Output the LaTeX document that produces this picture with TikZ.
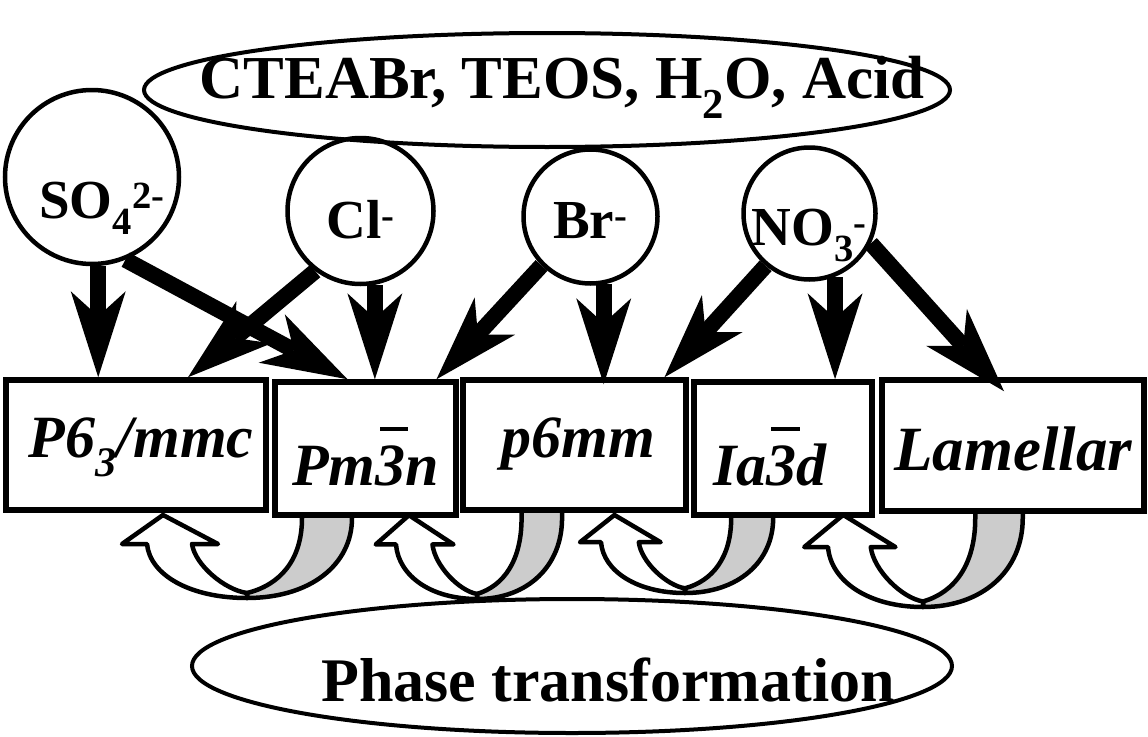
\documentclass[tikz,border=0pt]{standalone}
\usepackage{fontspec}
\setmainfont{Liberation Serif}
\usetikzlibrary{shapes.geometric, arrows.meta, calc}

\newcommand{\ovthree}{\makebox[0pt][l]{\hspace{0.08em}\raisebox{0.9em}{\rule{0.47em}{0.065em}}}3}

\begin{document}
\begin{tikzpicture}[
        x=1pt, y=-1pt,
        block/.style={rectangle, draw, line width=5.5pt, fill=white, inner sep=0pt, font=\fontsize{60}{66}\selectfont\bfseries\itshape},
        ion/.style={circle, draw, line width=4.5pt, inner sep=0pt, font=\fontsize{55}{60}\selectfont\bfseries},
        oval/.style={ellipse, draw, line width=4pt, inner sep=0pt},
        turn/.style={draw, line width=4.5pt, line join=round},
        line/.style={draw, line width=16pt, -{Stealth[length=86pt, width=55pt, inset=25pt, line width=0pt]}}
    ]
    \useasboundingbox (0,0) rectangle (1148,736);

    % phase change arrows
    \foreach \xm/\yb/\sx/\sy in {247/598/1/1, 477/599/0.81/1.01, 685/593/0.84/0.94, 923/607/0.95/1.11}{
        \begin{scope}[shift={(\xm,\yb)}, xscale=\sx, yscale=\sy]
            \path[turn, fill=gray!40] (0,-5) .. controls (33,-13) and (55,-38) .. (55,-80) -- (55,-90) -- (105,-90) -- (105,-80) .. controls (105,-33) and (63,0) .. (0,0) -- cycle;
            \path[turn, fill=white] (-84,-83) -- (-29,-54) -- (-55,-54) .. controls (-52,-33) and (-22,-8) .. (0,-5) -- (0,0) .. controls (-57,0) and (-97,-23) .. (-100,-54) -- (-125,-54) -- cycle;
        \end{scope}
    }

    % phases
    \node[block, minimum width=260pt, minimum height=130pt, text height=40pt, text depth=16pt] (p63) at (136,445) {\kern10pt P6\textsubscript{3}/mmc};
    \node[block, minimum width=181pt, minimum height=133pt, text height=73pt, text depth=0pt] (pm3n) at (365.5,448.5) {Pm\ovthree n};
    \node[block, minimum width=223pt, minimum height=130pt, text height=40pt, text depth=16pt] (p6mm) at (574.5,445) {\kern8pt p6mm};
    \node[block, minimum width=178pt, minimum height=133pt, text height=73pt, text depth=0pt] (ia3d) at (783,448.5) {Ia\ovthree d\kern26pt};
    \node[block, minimum width=262pt, minimum height=131pt, text height=49pt, text depth=0pt, font=\fontsize{63}{69}\selectfont\bfseries\itshape] (lam) at (1013,445.5) {Lamellar};

    % ions
    \node[ion, minimum size=174pt, text height=82pt, text depth=0pt] (so4) at (92,177) {\kern20pt SO\textsubscript{4}\textsuperscript{2-}};
    \node[ion, minimum size=146pt, text height=54pt, text depth=0pt] (cl) at (360.5,211) {Cl\textsuperscript{-}};
    \node[ion, minimum size=134pt, text height=43pt, text depth=0pt] (br) at (590.5,216.5) {Br\textsuperscript{-}};
    \node[ion, minimum size=132pt, text height=63pt, text depth=0pt] (no3) at (809.5,213.5) {NO\textsubscript{3}\textsuperscript{-}};

    % reagents and phase transformation
    \node[oval, minimum width=806pt, minimum height=114pt, label={[font=\fontsize{61}{67}\selectfont\bfseries, xshift=15pt, yshift=3pt]center:{CTEABr, TEOS, H\textsubscript{2}O, Acid}}] (reagents) at (547,90) {};
    \node[oval, minimum width=760pt, minimum height=134pt, label={[font=\fontsize{62}{68}\selectfont\bfseries, xshift=36pt, yshift=-14pt]center:{Phase transformation}}] (phase) at (572,666) {};

    % arrows
    \path[line] (so4.-86) -- (so4.-86 |- p63.north);
    \path[line] (so4.-68) -- ([xshift=-18pt]pm3n.north);
    \path[line] (cl.233) -- ([xshift=52pt]p63.north);
    \path[line] (cl.-79) -- (cl.-79 |- pm3n.north);
    \path[line] (br.225) -- ([xshift=71pt]pm3n.north);
    \path[line] (br.-79) -- ($(br.-79 |- p6mm.north)+(0,7)$);
    \path[line] (no3.230) -- ([xshift=90pt]p6mm.north);
    \path[line] (no3.-68) -- (no3.-68 |- ia3d.north);
    \path[line] (no3.-26) -- ($(lam.north)+(-9,14)$);

\end{tikzpicture}
\end{document}
